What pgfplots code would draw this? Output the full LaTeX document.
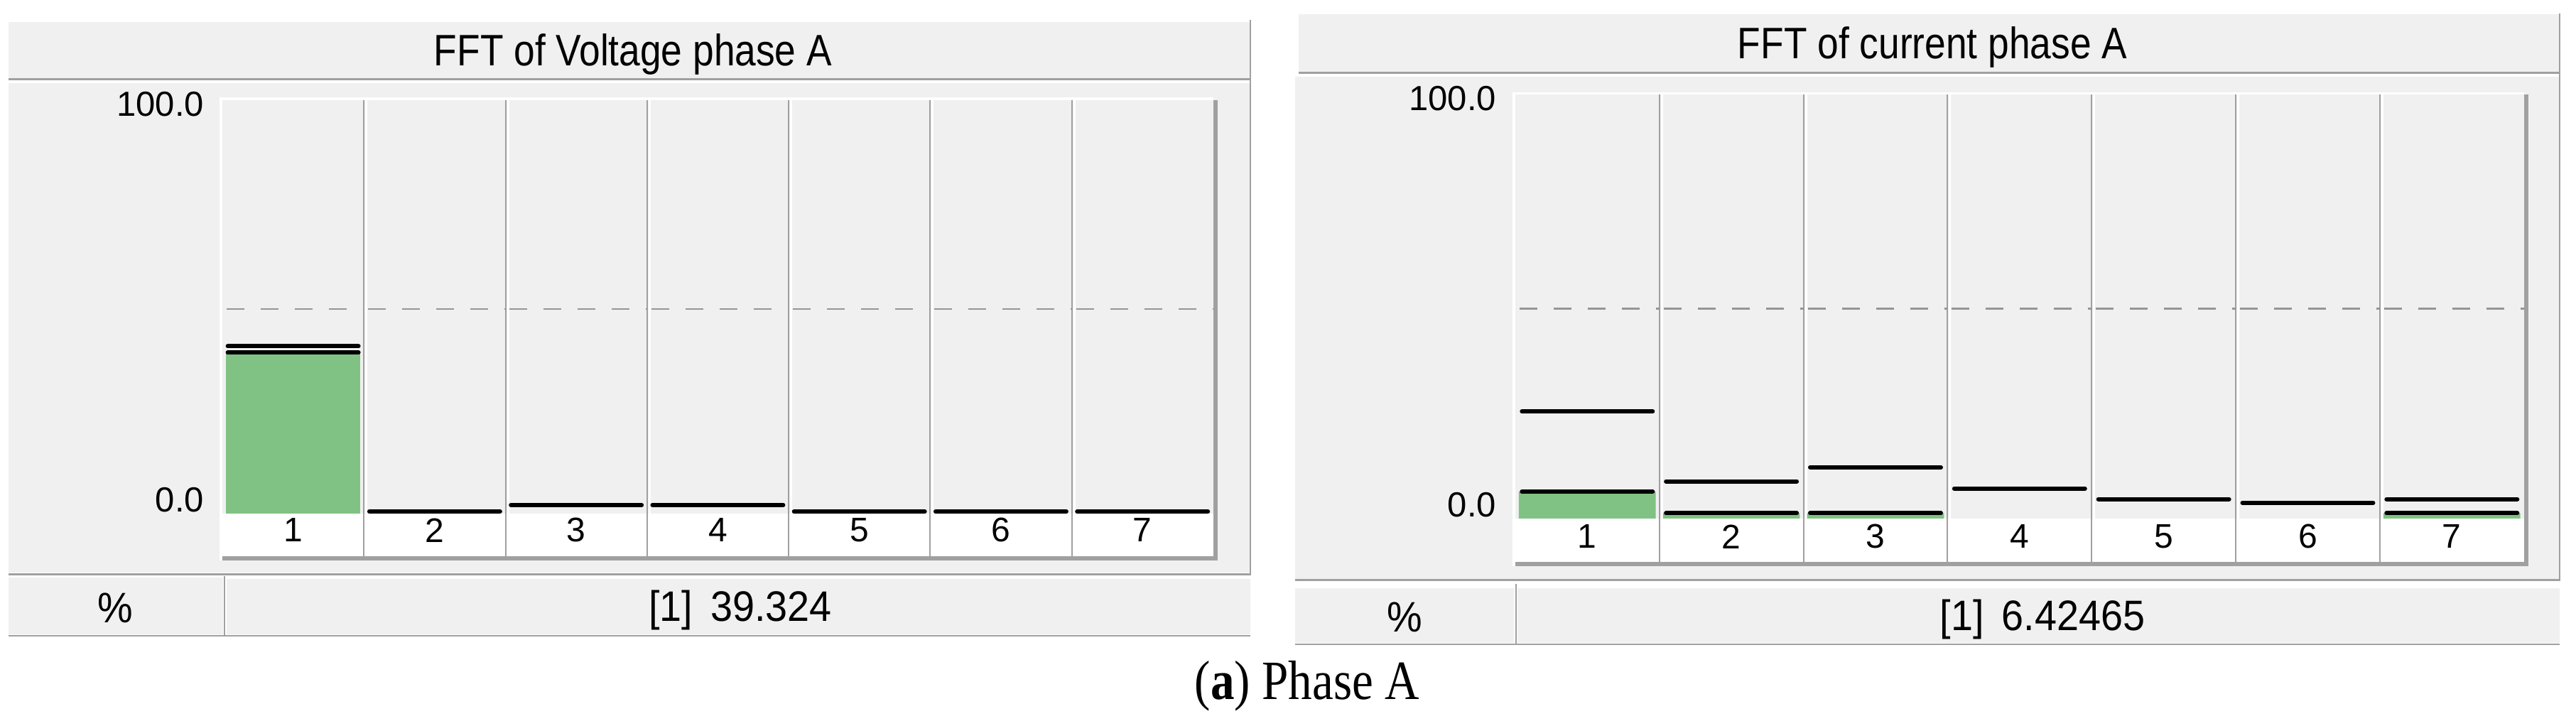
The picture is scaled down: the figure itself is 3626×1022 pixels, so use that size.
\documentclass[border=0pt]{standalone}
\usepackage{fontspec}
\setmainfont{Liberation Sans}
\newfontfamily\capfont{Liberation Serif}
\usepackage{graphicx}
\usepackage{pgfplots}
\pgfplotsset{compat=1.18}
\definecolor{panel}{HTML}{F0F0F0}
\definecolor{bord}{HTML}{A0A0A0}
\definecolor{dashc}{HTML}{959595}
\definecolor{barg}{RGB}{128,194,131}

\newcommand{\ttl}[1]{\scalebox{0.86}[1]{\fontsize{6.2pt}{7pt}\selectfont #1}}
\newcommand{\tbl}[1]{\scalebox{0.93}[1]{\fontsize{6.0pt}{7pt}\selectfont #1}}

\pgfplotsset{fftaxis/.style={
  scale only axis, clip=false,
  xmin=0.5, xmax=7.5, ymin=0, ymax=101,
  axis line style={draw=none},
  axis background/.style={fill=panel},
  xtick={1,2,3,4,5,6,7}, xticklabels={1,2,3,4,5,6,7},
  major tick length=0pt, minor tick length=0pt,
  tick style={draw=none},
  ytick={100}, yticklabels={100.0},
  extra y ticks={0}, extra y tick labels={0.0},
  extra y tick style={yticklabel style={anchor=south east}},
  yticklabel style={font=\fontsize{4.9pt}{5pt}\selectfont, anchor=east, inner sep=0pt, xshift=-2.4pt},
  xticklabel style={font=\fontsize{4.8pt}{5pt}\selectfont, anchor=center, inner sep=0pt},
  /pgf/number format/assume math mode=true,
}}
\pgfplotsset{
  hline/.style={only marks, mark=-, mark size=9.2pt, forget plot,
     mark options={line width=0.6pt, line cap=round, black, solid}},
  gbar/.style={ybar, bar width=0.95, fill=barg, draw=none, forget plot},
  thr/.style={dashc, line width=0.22pt, dash pattern=on 2.5pt off 2.3pt, unbounded coords=jump, forget plot},
}

\begin{document}
\begin{tikzpicture}[x=0.1pt,y=0.1pt]
\path[use as bounding box] (0,0) rectangle (3626,1022);

% ---------------- left panel frame ----------------
\fill[panel] (12,912) rectangle (1760,991);
\draw[bord, line width=0.3pt] (12,910.5) -- (1760,910.5);
\fill[panel] (12,216) rectangle (1760,905);
\draw[bord, line width=0.3pt] (12,213.5) -- (1760,213.5);
\draw[bord, line width=0.25pt] (1760,212) -- (1760,994);
\fill[white] (309,233) rectangle (1708,885);

\begin{axis}[fftaxis, at={(31.3pt,29.9pt)}, anchor=south west,
  width=139.5pt, height=58.2pt,
  xticklabel style={yshift=-2.35pt}]
  \pgfplotsinvokeforeach{1.5,2.5,3.5,4.5,5.5,6.5}{
    \draw[white, line width=0.3pt] ([xshift=0.35pt]axis cs:#1,-10.4) -- ([xshift=0.35pt]axis cs:#1,101);
    \draw[bord, line width=0.2pt] (axis cs:#1,-10.4) -- (axis cs:#1,101);
  }
  \addplot[thr] coordinates {(0.53,50) (1.5,50) (1.5,nan) (1.53,50) (2.5,50) (2.5,nan)
     (2.53,50) (3.5,50) (3.5,nan) (3.53,50) (4.5,50) (4.5,nan) (4.53,50) (5.5,50) (5.5,nan)
     (5.53,50) (6.5,50) (6.5,nan) (6.53,50) (7.5,50)};
  \addplot[gbar] coordinates {(1,39.324)};
  \addplot[hline] coordinates {(1,40.9)};
  \addplot[hline] coordinates {(1,39.324) (2,0.5) (3,2.1) (4,2.1) (5,0.5) (6,0.5) (7,0.5)};
\end{axis}

\fill[bord] (313,233) rectangle (1714,239);
\fill[bord] (1708,233) rectangle (1714,881);

\fill[panel] (12,129) rectangle (314,209);
\fill[panel] (319,129) rectangle (1760,207);
\draw[bord, line width=0.2pt] (316,127) -- (316,211);
\draw[bord, line width=0.25pt] (12,127) -- (1760,127);

\node[anchor=base, inner sep=0pt] at (891,929) {\ttl{FFT of Voltage phase A}};
\node[anchor=base, inner sep=0pt] at (162,145) {\tbl{\%}};
\node[anchor=base, inner sep=0pt] at (1042,147) {\tbl{[1]\, 39.324}};

% ---------------- right panel frame ----------------
\fill[panel] (1828,920) rectangle (3603,1002);
\draw[bord, line width=0.3pt] (1828,919) -- (3603,919);
\fill[panel] (1823,207) rectangle (3603,914);
\draw[bord, line width=0.3pt] (1823,205) -- (3603,205);
\draw[bord, line width=0.25pt] (3603,204) -- (3603,1003);
\fill[white] (2129,225) rectangle (3553,892);

\begin{axis}[fftaxis, at={(213.3pt,29.2pt)}, anchor=south west,
  width=142.0pt, height=59.7pt,
  xticklabel style={yshift=-2.55pt},
  yticklabel style={xshift=-0.1pt}]
  \pgfplotsinvokeforeach{1.5,2.5,3.5,4.5,5.5,6.5}{
    \draw[white, line width=0.3pt] ([xshift=0.35pt]axis cs:#1,-10.3) -- ([xshift=0.35pt]axis cs:#1,101);
    \draw[bord, line width=0.2pt] (axis cs:#1,-10.3) -- (axis cs:#1,101);
  }
  \addplot[thr] coordinates {(0.53,50) (1.5,50) (1.5,nan) (1.53,50) (2.5,50) (2.5,nan)
     (2.53,50) (3.5,50) (3.5,nan) (3.53,50) (4.5,50) (4.5,nan) (4.53,50) (5.5,50) (5.5,nan)
     (5.53,50) (6.5,50) (6.5,nan) (6.53,50) (7.5,50)};
  \addplot[gbar] coordinates {(1,6.42465) (2,1.3) (3,1.3) (7,1.3)};
  \addplot[hline] coordinates {(1,25.5) (2,8.85) (3,12.2) (4,7.15) (5,4.6) (6,3.75) (7,4.6)};
  \addplot[hline] coordinates {(1,6.42465) (2,1.3) (3,1.3) (7,1.3)};
\end{axis}

\fill[bord] (2133,225) rectangle (3559,231);
\fill[bord] (3553,225) rectangle (3559,889);

\fill[panel] (1823,117) rectangle (2131,194);
\fill[panel] (2136,117) rectangle (3603,194);
\draw[bord, line width=0.2pt] (2133.5,115) -- (2133.5,200);
\draw[bord, line width=0.25pt] (1823,115) -- (3603,115);

\node[anchor=base, inner sep=0pt] at (2720,939) {\ttl{FFT of current phase A}};
\node[anchor=base, inner sep=0pt] at (1977,132) {\tbl{\%}};
\node[anchor=base, inner sep=0pt] at (2875,134) {\tbl{[1]\, 6.42465}};

% ---------------- caption ----------------
\node[anchor=base, inner sep=0pt] at (1840,37)
  {\scalebox{0.86}[1]{\capfont\fontsize{7.8pt}{9pt}\selectfont (\textbf{a}) Phase A}};
\end{tikzpicture}
\end{document}
